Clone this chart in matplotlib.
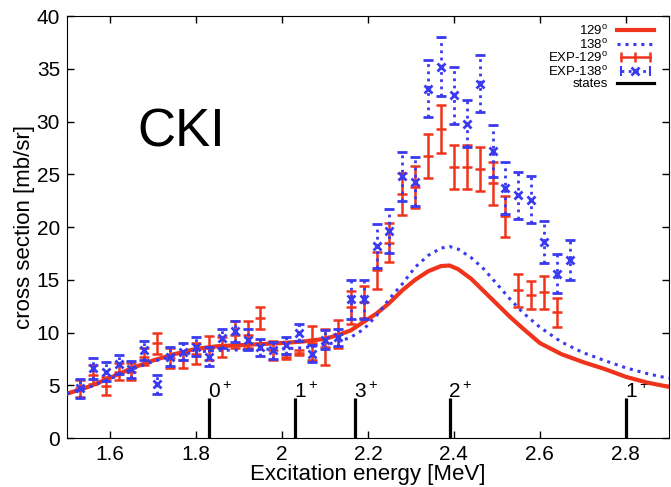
import numpy as np
import matplotlib
matplotlib.use("Agg")
import matplotlib.pyplot as plt
from matplotlib.lines import Line2D
from matplotlib.legend_handler import HandlerLine2D, HandlerTuple

plt.rcParams['font.family'] = ['Liberation Sans', 'DejaVu Sans']
plt.rcParams['mathtext.fontset'] = 'custom'
plt.rcParams['mathtext.rm'] = 'Liberation Sans'
plt.rcParams['mathtext.it'] = 'Liberation Sans'

RED = '#f0341c'
BLUE = '#3a3af0'

# theory curves
th_x = [1.50, 1.55, 1.60, 1.65, 1.70, 1.75, 1.80, 1.85, 1.90, 1.95, 2.00, 2.05,
        2.10, 2.13, 2.16, 2.19, 2.22, 2.25, 2.28, 2.31, 2.34, 2.37, 2.39, 2.41,
        2.44, 2.47, 2.50, 2.53, 2.56, 2.60, 2.65, 2.70, 2.75, 2.80, 2.85, 2.90]
th129 = [4.2, 4.85, 5.7, 6.6, 7.35, 7.95, 8.45, 8.7, 8.8, 8.9, 9.0, 9.15,
         9.4, 9.75, 10.2, 11.0, 11.8, 12.8, 14.0, 15.0, 15.8, 16.3, 16.35, 16.0,
         15.1, 13.9, 12.7, 11.5, 10.4, 9.0, 7.95, 7.2, 6.55, 5.8, 5.25, 4.85]
th138 = [4.2, 4.8, 5.6, 6.5, 7.25, 7.8, 8.15, 8.3, 8.35, 8.4, 8.45, 8.55,
         8.85, 9.1, 9.55, 10.3, 11.6, 13.2, 14.6, 16.2, 17.3, 18.0, 18.15, 17.9,
         17.1, 16.0, 14.6, 13.2, 11.9, 10.5, 9.1, 8.1, 7.35, 6.65, 6.1, 5.65]

# experimental points
ex_x = [1.53, 1.56, 1.59, 1.62, 1.65, 1.68, 1.71, 1.74, 1.77, 1.80, 1.83, 1.86, 1.89,
        1.92, 1.95, 1.98, 2.01, 2.04, 2.07, 2.10, 2.13, 2.16, 2.19, 2.22, 2.25, 2.28,
        2.31, 2.34, 2.37, 2.40, 2.43, 2.46, 2.49, 2.52, 2.55, 2.58, 2.61, 2.64, 2.67]
exp129 = [4.7, 6.0, 4.9, 6.3, 6.3, 7.7, 9.0, 7.6, 7.4, 8.0, 8.5, 8.6, 9.8,
          9.8, 11.4, 8.3, 7.7, 8.1, 9.0, 8.6, 9.85, 12.4, 12.9, 15.9, 18.5, 23.1,
          23.8, 26.7, 29.3, 25.7, 25.7, 25.5, 24.15, 21.0, 14.0, 13.55, 13.8, 11.9]
err129 = [0.8, 0.9, 0.85, 0.8, 0.8, 0.8, 1.0, 0.95, 0.8, 1.0, 1.15, 0.95, 1.3,
          1.3, 1.05, 0.9, 0.25, 0.25, 1.6, 1.7, 1.35, 1.55, 1.5, 1.75, 1.85, 2.0,
          2.0, 2.1, 2.25, 2.1, 2.1, 2.1, 2.05, 1.9, 1.55, 1.3, 1.55, 1.4]
exp138 = [4.7, 6.6, 6.3, 7.0, 6.5, 8.3, 5.1, 7.7, 8.2, 8.65, 7.7, 9.45, 10.1,
          9.3, 8.6, 8.3, 8.8, 10.0, 8.0, 9.3, 9.55, 13.15, 13.15, 18.2, 19.6, 24.8,
          24.3, 33.1, 35.2, 32.5, 29.8, 33.6, 27.2, 23.7, 23.0, 22.6, 18.6, 15.55, 16.9]
err138 = [0.9, 1.0, 0.9, 0.9, 0.8, 0.9, 0.9, 0.9, 0.8, 0.9, 0.9, 0.9, 1.0,
          1.0, 0.8, 0.8, 0.8, 0.8, 0.8, 0.9, 0.8, 1.85, 1.85, 2.1, 2.1, 2.3,
          2.3, 2.7, 2.8, 2.7, 2.2, 2.7, 2.45, 2.45, 2.2, 2.2, 2.0, 1.85, 1.9]

# states
st_x = [1.83, 2.03, 2.17, 2.39, 2.80]
st_lab = ['0$^+$', '1$^+$', '3$^+$', '2$^+$', '1$^+$']
st_h = 3.8

fig = plt.figure(figsize=(6.71, 4.87), dpi=100)
ax = fig.add_axes([0.0998, 0.1006, 0.897, 0.8665])

ax.plot(th_x, th129, color=RED, lw=3.0, zorder=4)
ax.plot(th_x, th138, color=BLUE, lw=2.2, ls=(0, (1, 1.6)), zorder=4)

e1 = ax.errorbar(ex_x[:len(exp129)], exp129, yerr=err129, fmt='_', color=RED,
                 ms=7, mew=1.8, elinewidth=1.8, capsize=3.5, capthick=1.8, zorder=3)
e2 = ax.errorbar(ex_x, exp138, yerr=err138, fmt='x', color=BLUE,
                 ms=6, mew=2.0, elinewidth=2.0, capsize=3.5, capthick=2.0, zorder=5)
for c in e2[2]:
    c.set_linestyle((0, (1, 1.6)))

ax.vlines(st_x, 0, st_h, color='black', lw=2.3, zorder=6)
for x, lab in zip(st_x, st_lab):
    ax.text(x - 0.003, 3.45, lab, fontsize=15, ha='left', va='bottom', zorder=2)

ax.text(1.663, 29.0, 'CKI', fontsize=38, ha='left', va='center')

ax.set_xlim(1.5, 2.9)
ax.set_ylim(0, 40)
ax.set_xticks([1.6, 1.8, 2.0, 2.2, 2.4, 2.6, 2.8])
ax.set_xticklabels(['1.6', '1.8', '2', '2.2', '2.4', '2.6', '2.8'])
ax.set_yticks(range(0, 41, 5))
ax.tick_params(direction='in', top=True, right=True, length=5, width=1,
               labelsize=15, pad=5)
ax.set_xlabel('Excitation energy [MeV]', fontsize=16, labelpad=0)
ax.set_ylabel('cross section [mb/sr]', fontsize=16, labelpad=1)

# legend
h1 = Line2D([], [], color=RED, lw=3.0)
h2 = Line2D([], [], color=BLUE, lw=2.2, ls=(0, (1, 1.6)))
h3 = Line2D([], [], color=RED, lw=1.8, marker='|', ms=7, mew=1.8)
h4a = Line2D([], [], color=BLUE, lw=2.0, ls=(0, (1, 1.6)), marker='|', ms=7, mew=1.5)
h4b = Line2D([], [], color=BLUE, lw=0, marker='x', ms=6, mew=2.0)
h5 = Line2D([], [], color='black', lw=2.3)
leg = ax.legend([h1, h2, h3, (h4a, h4b), h5],
                ['129$^{\\mathrm{o}}$', '138$^{\\mathrm{o}}$', 'EXP-129$^{\\mathrm{o}}$',
                 'EXP-138$^{\\mathrm{o}}$', 'states'],
                handler_map={h3: HandlerLine2D(numpoints=3), h4a: HandlerLine2D(numpoints=2),
                             h4b: HandlerLine2D(numpoints=1),
                             tuple: HandlerTuple(ndivide=1)},
                loc='upper right', bbox_to_anchor=(1 - 15 / 602, 1 - 8 / 422),
                borderaxespad=0, frameon=False,
                markerfirst=False, fontsize=9.5, handlelength=2.8,
                handletextpad=0.7, labelspacing=-0.04, borderpad=0)

fig.savefig('out.png', dpi=100)
